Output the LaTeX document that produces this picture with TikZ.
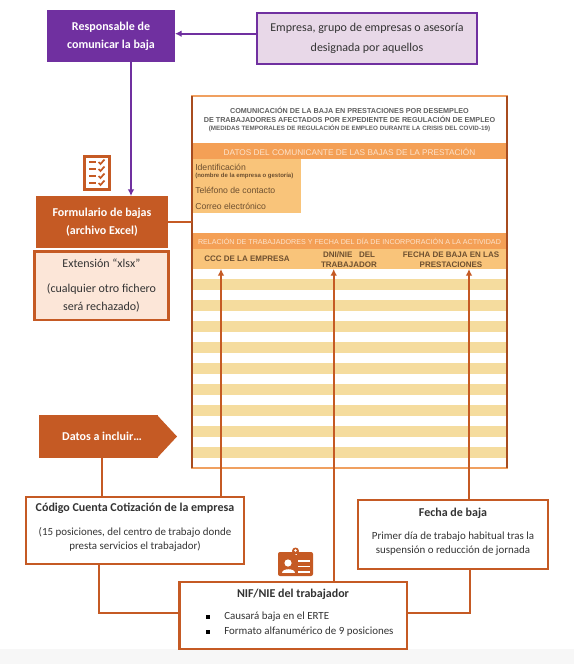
\documentclass[tikz,border=0pt]{standalone}
\usepackage{fontspec}
\setmainfont{Carlito}
\newfontfamily\formfont{Liberation Sans}
\usetikzlibrary{arrows.meta,shapes.geometric}
\definecolor{purp}{HTML}{7030A0}
\definecolor{lpurp}{HTML}{E8D8E8}
\definecolor{dorange}{HTML}{C55A24}
\definecolor{lorange}{HTML}{FCE6D8}
\definecolor{band}{HTML}{F4A056}
\definecolor{formline}{HTML}{F0A060}
\definecolor{hdr}{HTML}{F9C47A}
\definecolor{stripe}{HTML}{F5DC9E}
\definecolor{txt}{HTML}{333333}
\definecolor{brownt}{HTML}{6E5030}
\definecolor{bandt}{HTML}{FCE3CC}
\definecolor{titlet}{HTML}{606060}
\tikzset{
  x=0.75pt,y=-0.75pt,
  wh/.style 2 args={minimum width=#1*0.75pt,minimum height=#2*0.75pt,inner sep=0pt,outer sep=0pt},
  solidbox/.style={fill=#1,text=white,font=\fontsize{9}{13.5}\selectfont\bfseries,align=center},
  linebox/.style={draw=dorange,line width=1.6pt,fill=white,text=txt,align=center},
  plink/.style={draw=purp,line width=1.4pt},
  olink/.style={draw=dorange,line width=1.4pt},
  oarrow/.style={olink,-{Latex[length=5pt,width=5pt]}},
  parrow/.style={plink,-{Latex[length=5pt,width=5pt]}},
  bandtext/.style={text=bandt,font=\formfont\fontsize{#1}{#1}\selectfont,inner sep=0pt},
  hdrtext/.style={text=brownt,font=\formfont\fontsize{6}{7.4}\selectfont\bfseries,align=center,inner sep=0pt},
  lefttext/.style={text=brownt,anchor=west,inner sep=0pt},
  bodytext/.style={text=txt,font=\fontsize{8.2}{8.2}\selectfont,inner sep=0pt},
  stripebar/.style={fill=stripe,draw=none},
}
\begin{document}
\begin{tikzpicture}
\useasboundingbox (0,0) rectangle (574,664);
\fill[white] (0,0) rectangle (574,664);
\fill[black!3] (0,649) rectangle (574,664);

% form sheet
\fill[band] (192,143) rectangle (507,159);
\fill[hdr] (192,159) rectangle (301,213);
\fill[band] (192,233) rectangle (507,249);
\fill[hdr] (192,249) rectangle (507,269);
\foreach \yy in {279,300,321,342,363,384,405,426,447}
  \fill[stripebar] (192,\yy) rectangle (507,\yy+11);
\node[draw=formline,line width=1pt,wh={315}{372}] (form) at (349.5,282) {};
\draw[dorange!85!black,line width=1pt] (form.north west) -- (form.south west);
\draw[dorange!85!black,line width=1pt] (form.north east) -- (form.south east);

\node[text=titlet,font=\formfont\fontsize{5.42}{6.6}\selectfont\bfseries,align=center,inner sep=0pt] (title) at (349.5,114.5)
  {COMUNICACIÓN DE LA BAJA EN PRESTACIONES POR DESEMPLEO\\DE TRABAJADORES AFECTADOS POR EXPEDIENTE DE REGULACIÓN DE EMPLEO};
\node[text=titlet,font=\formfont\fontsize{4.7}{5}\selectfont\bfseries,inner sep=0pt] (subtitle) at (349.5,128.5)
  {(MEDIDAS TEMPORALES DE REGULACIÓN DE EMPLEO DURANTE LA CRISIS DEL COVID-19)};
\node[bandtext=6.2] (datos) at (349.5,151.5) {DATOS DEL COMUNICANTE DE LAS BAJAS DE LA PRESTACIÓN};
\node[lefttext,font=\formfont\fontsize{6.5}{6.5}\selectfont] (ident) at (195,167) {Identificación};
\node[lefttext,font=\formfont\fontsize{4.5}{4.5}\selectfont\bfseries] (nombre) at (195,175.7) {(nombre de la empresa o gestoría)};
\node[lefttext,font=\formfont\fontsize{6.5}{6.5}\selectfont] (tel) at (195,190) {Teléfono de contacto};
\node[lefttext,font=\formfont\fontsize{6.5}{6.5}\selectfont] (correo) at (195,206) {Correo electrónico};
\node[bandtext=5.35] (relacion) at (349.5,241) {RELACIÓN DE TRABAJADORES Y FECHA DEL DÍA DE INCORPORACIÓN A LA ACTIVIDAD};
\node[hdrtext] (ccc) at (247,259) {CCC DE LA EMPRESA};
\node[hdrtext] (dni) at (349,259.5) {DNI/NIE\ \ \ DEL\\TRABAJADOR};
\node[hdrtext] (fecha) at (451,259.5) {FECHA DE BAJA EN LAS\\PRESTACIONES};

% boxes
\node[solidbox=purp,wh={128}{52.5}] (resp) at (111,36) {Responsable de\\comunicar la baja};
\node[draw=purp,line width=1.6pt,fill=lpurp,text=txt,align=center,wh={220}{51},font=\fontsize{9}{15}\selectfont] (emp) at (367,38.5)
  {Empresa, grupo de empresas o asesoría\\designada por aquellos};
\node[solidbox=dorange,wh={132}{52}] (formu) at (102,222) {Formulario de bajas\\(archivo Excel)};
\node[draw=dorange,line width=1.6pt,fill=lorange,text=txt,align=center,wh={134}{68.5},font=\fontsize{9}{13.5}\selectfont] (ext) at (101.5,285.8)
  {Extensión “xlsx”\\[5pt](cualquier otro fichero\\será rechazado)};
\node[draw=none,fill=dorange,wh={118.5}{43}] (datosb) at (98.25,436.5) {};
\fill[dorange] (157,415) -- (177,436.5) -- (157,458) -- cycle;
\node[text=white,font=\fontsize{9}{9}\selectfont\bfseries,inner sep=0pt] (datostxt) at (102,436) {Datos a incluir…};

\node[linebox,wh={218}{67}] (cccb) at (135,530.5) {};
\node[text=txt,font=\fontsize{9}{9}\selectfont\bfseries,inner sep=0pt] (ccct) at (135,508.5) {Código Cuenta Cotización de la empresa};
\node[bodytext,font=\fontsize{8.2}{11}\selectfont,align=center] (cccd) at (135,539.5) {(15 posiciones, del centro de trabajo donde\\presta servicios el trabajador)};

\node[linebox,wh={190}{69}] (fechab) at (453,534.5) {};
\node[text=txt,font=\fontsize{9}{9}\selectfont\bfseries,inner sep=0pt] (fechat) at (453,513) {Fecha de baja};
\node[bodytext,font=\fontsize{8.2}{11}\selectfont,align=center] (fechad) at (453,543.5) {Primer día de trabajo habitual tras la\\suspensión o reducción de jornada};

\node[linebox,wh={227.5}{67}] (nifb) at (293.25,615.5) {};
\node[text=txt,font=\fontsize{9}{9}\selectfont\bfseries,inner sep=0pt] (nift) at (293,594) {NIF/NIE del trabajador};
\node[bodytext,anchor=west] (nif1) at (224,617) {Causará baja en el ERTE};
\node[bodytext,anchor=west] (nif2) at (224,632) {Formato alfanumérico de 9 posiciones};
\node[fill=black,minimum size=3pt,inner sep=0pt] (bul1) at (208,617) {};
\node[fill=black,minimum size=3pt,inner sep=0pt] (bul2) at (208,632) {};

% connectors
\draw[parrow] (emp.west |- 0,33.7) coordinate (empout) -- (empout -| resp.east);
\coordinate (respout) at (131,62.25);
\draw[parrow] (respout) -- (respout |- formu.north);
\coordinate (formuout) at (168,222);
\draw[olink] (formuout) -- (formuout -| form.west);
\coordinate (dlow) at (102,458);
\draw[olink] (dlow) -- (dlow |- cccb.north);
\coordinate (a1) at (221,497);
\coordinate (a2) at (333.7,582);
\coordinate (a3) at (469,500);
\draw[oarrow] (a1) -- (a1 |- 0,269);
\draw[oarrow] (a2) -- (a2 |- 0,269);
\draw[oarrow] (a3) -- (a3 |- 0,269);
\coordinate (c1) at (99,564);
\coordinate (c2) at (470,569);
\coordinate (c1m) at (99,613);
\coordinate (c2m) at (470,613);
\draw[olink,line join=miter] (c1) -- (c1m) -- (c1m -| nifb.west);
\draw[olink,line join=miter] (c2) -- (c2m) -- (c2m -| nifb.east);

% checklist icon
\draw[draw=dorange,line width=1.8pt,fill=white] (84.5,156.5) rectangle (109.5,189.5);
\foreach \yy in {162,169,176,183}{
  \draw[dorange,line width=1.1pt] (89,\yy) -- (96,\yy);
  \draw[dorange,line width=1.3pt] (98.5,\yy) -- (100.5,\yy+2) -- (104.5,\yy-2.5);
}
% id badge icon
\fill[dorange,rounded corners=1.5pt] (278,552) rectangle (313,576);
\fill[white] (294.5,552) rectangle (296.5,555);
\fill[dorange] (295.5,551) circle (3.5);
\fill[white] (295.5,550.5) circle (1.4);
\fill[white] (288,563) circle (3.6);
\fill[white] (281.5,573) .. controls (281.5,567.5) and (294.5,567.5) .. (294.5,573) -- cycle;
\foreach \yy in {560,565.5,571}
  \fill[white] (298,\yy) rectangle (310,\yy+1.8);
\end{tikzpicture}
\end{document}
